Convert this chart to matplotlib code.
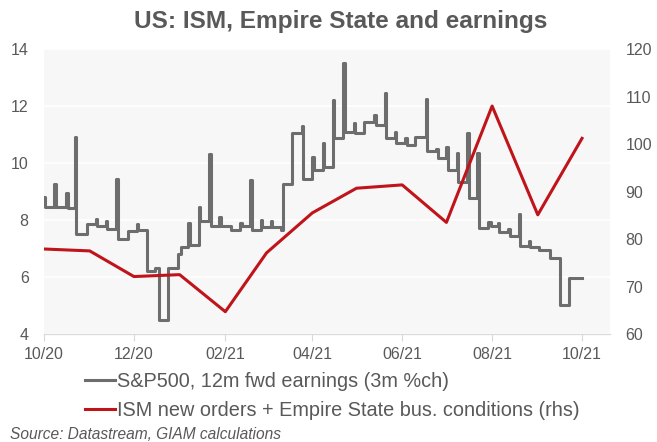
import matplotlib
matplotlib.use("Agg")
import matplotlib.pyplot as plt
import matplotlib.dates as mdates
import pandas as pd

plt.rcParams['font.family'] = ['Liberation Sans', 'DejaVu Sans']

# S&P500 12m forward earnings, 3m % change (step series, value holds until next date)
earn_dates = [
    "2020-10-01", "2020-10-02", "2020-10-08", "2020-10-09", "2020-10-16", "2020-10-17",
    "2020-10-22", "2020-10-23", "2020-10-30", "2020-11-05", "2020-11-06", "2020-11-12",
    "2020-11-13", "2020-11-19", "2020-11-20", "2020-11-27", "2020-12-03", "2020-12-04",
    "2020-12-10", "2020-12-15", "2020-12-18", "2020-12-24", "2020-12-31", "2021-01-02",
    "2021-01-07", "2021-01-08", "2021-01-14", "2021-01-15", "2021-01-21", "2021-01-22",
    "2021-01-28", "2021-01-29", "2021-02-05", "2021-02-11", "2021-02-12", "2021-02-18",
    "2021-02-19", "2021-02-25", "2021-02-26", "2021-03-04", "2021-03-05", "2021-03-11",
    "2021-03-12", "2021-03-18", "2021-03-25", "2021-03-26", "2021-04-01", "2021-04-02",
    "2021-04-08", "2021-04-09", "2021-04-15", "2021-04-16", "2021-04-22", "2021-04-23",
    "2021-04-29", "2021-04-30", "2021-05-06", "2021-05-13", "2021-05-14", "2021-05-20",
    "2021-05-21", "2021-05-27", "2021-05-28", "2021-06-03", "2021-06-04", "2021-06-10",
    "2021-06-17", "2021-06-18", "2021-06-24", "2021-06-25", "2021-07-01", "2021-07-02",
    "2021-07-08", "2021-07-09", "2021-07-15", "2021-07-16", "2021-07-22", "2021-07-23",
    "2021-07-29", "2021-07-31", "2021-08-05", "2021-08-06", "2021-08-12", "2021-08-13",
    "2021-08-19", "2021-08-20", "2021-08-26", "2021-08-27", "2021-09-02", "2021-09-09",
    "2021-09-16", "2021-09-22", "2021-10-01",
]
earn_values = [
    8.82, 8.47, 9.27, 8.45, 8.95, 8.42,
    10.9, 7.5, 7.85, 8.05, 7.78, 7.95,
    7.7, 9.45, 7.35, 7.6, 7.85, 7.65,
    6.2, 6.3, 4.5, 6.3, 6.8, 7.05,
    7.9, 7.12, 8.45, 7.95, 10.3, 7.8,
    8.1, 7.8, 7.65, 7.9, 7.8, 9.4,
    7.65, 8.0, 7.75, 7.98, 7.75, 7.65,
    9.25, 11.05, 11.3, 9.45, 10.2, 9.75,
    10.7, 9.85, 12.2, 10.87, 13.5, 11.1,
    11.41, 11.04, 11.45, 11.68, 11.33, 12.47,
    10.87, 11.1, 10.71, 10.87, 10.63, 10.9,
    12.23, 10.42, 10.5, 10.16, 10.57, 9.75,
    10.34, 9.34, 11.06, 8.76, 10.34, 7.73,
    7.94, 7.78, 7.9, 7.59, 7.68, 7.44,
    8.2, 7.09, 7.27, 7.06, 6.95, 6.66,
    5.02, 5.95, 5.95,
]

# ISM new orders + Empire State business conditions (monthly, rhs)
ism_dates = [
    "2020-10-01", "2020-11-01", "2020-12-01", "2021-01-01", "2021-02-01", "2021-03-01",
    "2021-04-01", "2021-05-01", "2021-06-01", "2021-07-01", "2021-08-01", "2021-09-01",
    "2021-10-01",
]
ism_values = [77.9, 77.5, 72.1, 72.5, 64.7, 77.1, 85.5, 90.7, 91.4, 83.5, 108.0, 85.1, 101.2]

earn_label = "S&P500, 12m fwd earnings (3m %ch)"
ism_label = "ISM new orders + Empire State bus. conditions (rhs)"

text_grey = "#595959"
line_grey = "#6d6d6d"
line_red = "#c0141b"

fig = plt.figure(figsize=(6.57, 4.42), dpi=100)
ax = fig.add_axes([0.067, 0.2443, 0.8615, 0.6447])
ax.set_facecolor("#f7f7f7")

l1, = ax.step(pd.to_datetime(earn_dates), earn_values, where="post",
              color=line_grey, lw=2.2, label=earn_label, zorder=2)
ax.set_ylim(4, 14)
ax.set_yticks(range(4, 15, 2))
ax.grid(axis="y", color="white", lw=1.2, zorder=0)
ax.set_axisbelow(True)

ax2 = ax.twinx()
l2, = ax2.plot(pd.to_datetime(ism_dates), ism_values, color=line_red, lw=2.2,
               label=ism_label, zorder=3)
ax2.set_ylim(60, 120)
ax2.set_yticks(range(60, 121, 10))

ax.set_xlim(pd.Timestamp("2020-10-01"), pd.Timestamp("2021-10-20"))
ax.xaxis.set_major_locator(mdates.MonthLocator(bymonth=[2, 4, 6, 8, 10, 12]))
ax.xaxis.set_major_formatter(mdates.DateFormatter("%m/%y"))

for a in (ax, ax2):
    for s in ("left", "right", "top"):
        a.spines[s].set_visible(False)
    a.spines["bottom"].set_color("#d9d9d9")
    a.tick_params(axis="y", length=0, labelsize=11.5, labelcolor=text_grey, pad=11)
ax.tick_params(axis="x", length=5, color="#d9d9d9", labelsize=11.5,
               labelcolor=text_grey, pad=4)

fig.text(0.519, 0.952, "US: ISM, Empire State and earnings", ha="center", va="center",
         fontsize=17.6, fontweight="bold", color=text_grey)

fig.legend(handles=[l1, l2], loc="upper left", bbox_to_anchor=(0.129, 0.158),
           frameon=False, fontsize=14.3, labelcolor=text_grey, handlelength=1.5,
           handletextpad=0.1, labelspacing=0.5, borderaxespad=0, borderpad=0)

fig.text(0.015, 0.018, "Source: Datastream, GIAM calculations", ha="left", va="center",
         fontsize=11.2, fontstyle="italic", color=text_grey)

fig.savefig("out.png", dpi=100)
